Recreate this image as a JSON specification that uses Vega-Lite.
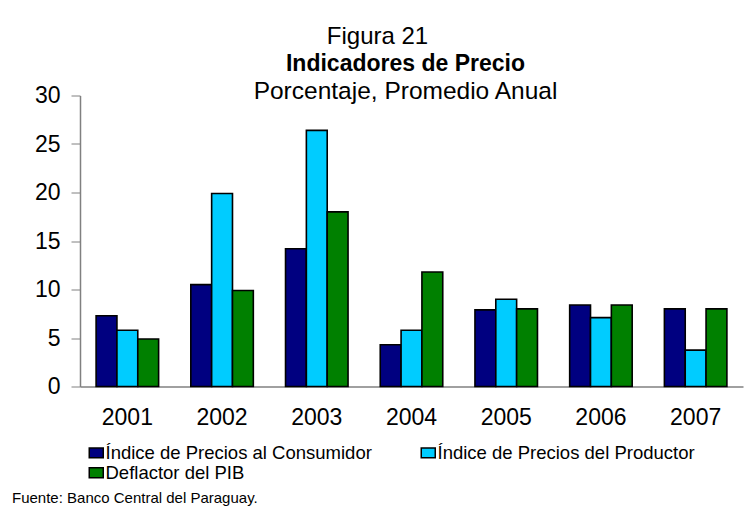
{
 "$schema": "https://vega.github.io/schema/vega-lite/v6.json",
 "background": "white",
 "padding": {"left": 12, "top": 24.5, "right": 4, "bottom": 4},
 "config": {"font": "Liberation Sans", "view": {"stroke": null}, "concat": {"spacing": 0}},
 "title": {"text": "Fuente: Banco Central del Paraguay.", "orient": "bottom", "anchor": "start", "fontSize": 15, "fontWeight": "normal", "color": "black", "offset": 1},
 "vconcat": [{
  "title": {"text": "Figura 21", "fontSize": 24, "fontWeight": "normal", "color": "black", "anchor": "middle", "offset": 4},
  "vconcat": [{
   "width": 663,
   "height": 291,
   "title": {"text": "Indicadores de Precio", "subtitle": "Porcentaje, Promedio Anual", "fontSize": 23, "fontWeight": "bold", "color": "black", "subtitleFontSize": 24.5, "subtitleColor": "black", "subtitlePadding": 4, "anchor": "middle", "frame": "group", "dx": -6, "offset": -19},
   "data": {"values": [
    {"year": "2001", "serie": "Índice de Precios al Consumidor", "value": 7.3},
    {"year": "2001", "serie": "Índice de Precios del Productor", "value": 5.8},
    {"year": "2001", "serie": "Deflactor del PIB", "value": 4.9},
    {"year": "2002", "serie": "Índice de Precios al Consumidor", "value": 10.5},
    {"year": "2002", "serie": "Índice de Precios del Productor", "value": 19.9},
    {"year": "2002", "serie": "Deflactor del PIB", "value": 9.9},
    {"year": "2003", "serie": "Índice de Precios al Consumidor", "value": 14.2},
    {"year": "2003", "serie": "Índice de Precios del Productor", "value": 26.4},
    {"year": "2003", "serie": "Deflactor del PIB", "value": 18.0},
    {"year": "2004", "serie": "Índice de Precios al Consumidor", "value": 4.3},
    {"year": "2004", "serie": "Índice de Precios del Productor", "value": 5.8},
    {"year": "2004", "serie": "Deflactor del PIB", "value": 11.8},
    {"year": "2005", "serie": "Índice de Precios al Consumidor", "value": 7.9},
    {"year": "2005", "serie": "Índice de Precios del Productor", "value": 9.0},
    {"year": "2005", "serie": "Deflactor del PIB", "value": 8.0},
    {"year": "2006", "serie": "Índice de Precios al Consumidor", "value": 8.4},
    {"year": "2006", "serie": "Índice de Precios del Productor", "value": 7.1},
    {"year": "2006", "serie": "Deflactor del PIB", "value": 8.4},
    {"year": "2007", "serie": "Índice de Precios al Consumidor", "value": 8.0},
    {"year": "2007", "serie": "Índice de Precios del Productor", "value": 3.75},
    {"year": "2007", "serie": "Deflactor del PIB", "value": 8.0}
   ]},
   "mark": {"type": "bar", "stroke": "black", "strokeWidth": 1.6},
   "encoding": {
    "x": {"field": "year", "type": "nominal", "scale": {"paddingInner": 0.34, "paddingOuter": 0.17}, "axis": {"title": null, "labelAngle": 0, "ticks": false, "domainColor": "#808080", "domainWidth": 1.5, "labelPadding": 20, "labelFontSize": 23, "labelColor": "black"}},
    "xOffset": {"field": "serie", "type": "nominal", "sort": ["Índice de Precios al Consumidor", "Índice de Precios del Productor", "Deflactor del PIB"]},
    "y": {"field": "value", "type": "quantitative", "scale": {"domain": [0, 30]}, "axis": {"title": null, "values": [0, 5, 10, 15, 20, 25, 30], "grid": false, "domainColor": "#808080", "domainWidth": 1.5, "tickColor": "#808080", "tickSize": 9, "labelPadding": 11, "labelFontSize": 23, "labelColor": "black", "minExtent": 68}},
    "color": {"field": "serie", "type": "nominal", "sort": ["Índice de Precios al Consumidor", "Índice de Precios del Productor", "Deflactor del PIB"], "scale": {"domain": ["Índice de Precios al Consumidor", "Índice de Precios del Productor", "Deflactor del PIB"], "range": ["#000080", "#00CCFF", "#008000"]}, "legend": {"title": null, "orient": "bottom", "direction": "horizontal", "columns": 2, "symbolType": "M-1,-0.7H1V0.7H-1Z", "symbolSize": 196, "symbolStrokeColor": "black", "symbolStrokeWidth": 1.5, "symbolOpacity": 1, "labelFontSize": 18.5, "labelColor": "black", "columnPadding": 46, "rowPadding": 1, "padding": 7, "offset": 7, "labelOffset": 0, "labelLimit": 400}}
   }
  }]
 }]
}
